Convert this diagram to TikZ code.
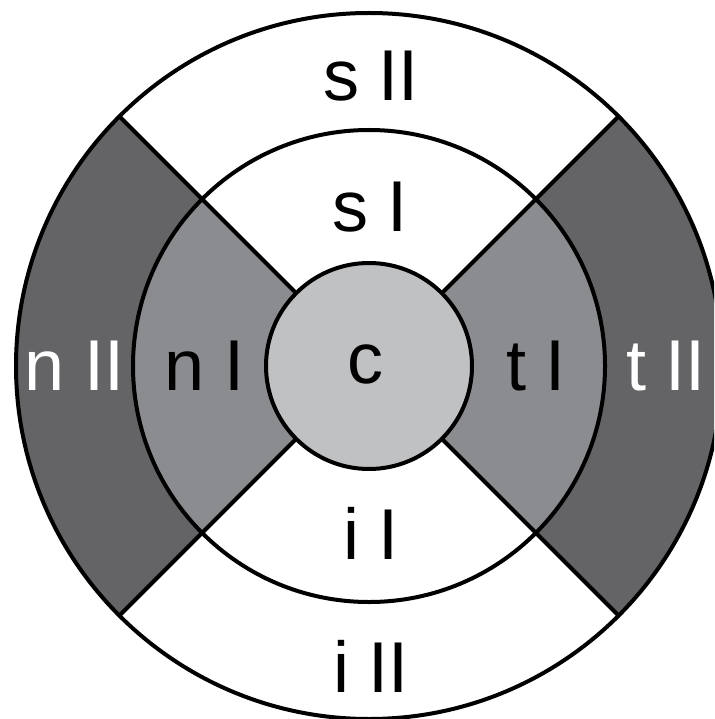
\documentclass[tikz,border=0pt]{standalone}
\usepackage{fontspec}
\setmainfont{Liberation Sans}
\definecolor{outerdark}{HTML}{646466}
\definecolor{midgray}{HTML}{8B8C90}
\definecolor{centergray}{HTML}{C0C1C3}
\begin{document}
\begin{tikzpicture}[x=1pt,y=1pt,
  ring/.style={line width=4pt, draw=black},
  lbl/.style={anchor=base, font=\fontsize{72}{72}\selectfont, inner sep=0pt, text=black},
  lblw/.style={lbl, text=white}]
\useasboundingbox (0,0) rectangle (714,-719);
\clip (0,0) rectangle (714,-719);
\coordinate (O) at (369,-366);
% fills
\fill[white] (O) circle (353);
\fill[outerdark] (O) -- ++(135:353) arc (135:225:353) -- cycle;
\fill[outerdark] (O) -- ++(-45:353) arc (-45:45:353) -- cycle;
\fill[white] (O) circle (236);
\fill[midgray] (O) -- ++(135:236) arc (135:225:236) -- cycle;
\fill[midgray] (O) -- ++(-45:236) arc (-45:45:236) -- cycle;
\fill[centergray] (O) circle (103);
% dividers
\foreach \a in {45,135,225,315}
  \draw[ring] (O) ++(\a:103) -- ++(\a:250);
% circles
\draw[ring] (O) circle (353);
\draw[ring] (O) circle (236);
\draw[ring] (O) circle (103);
% labels
\node[lbl]  (sII) at (371,-101) {s II};
\node[lbl]  (sI)  at (370,-232) {s I};
\node[lbl]  (c)   at (365,-383) {c};
\node[lblw] (nII) at (75,-390)  {n II};
\node[lbl]  (nI)  at (205,-390) {n I};
\node[lbl]  (tI)  at (536,-390) {t I};
\node[lblw] (tII) at (666,-390) {t II};
\node[lbl]  (iI)  at (371,-559) {i I};
\node[lbl]  (iII) at (371,-692) {i II};
\end{tikzpicture}
\end{document}
